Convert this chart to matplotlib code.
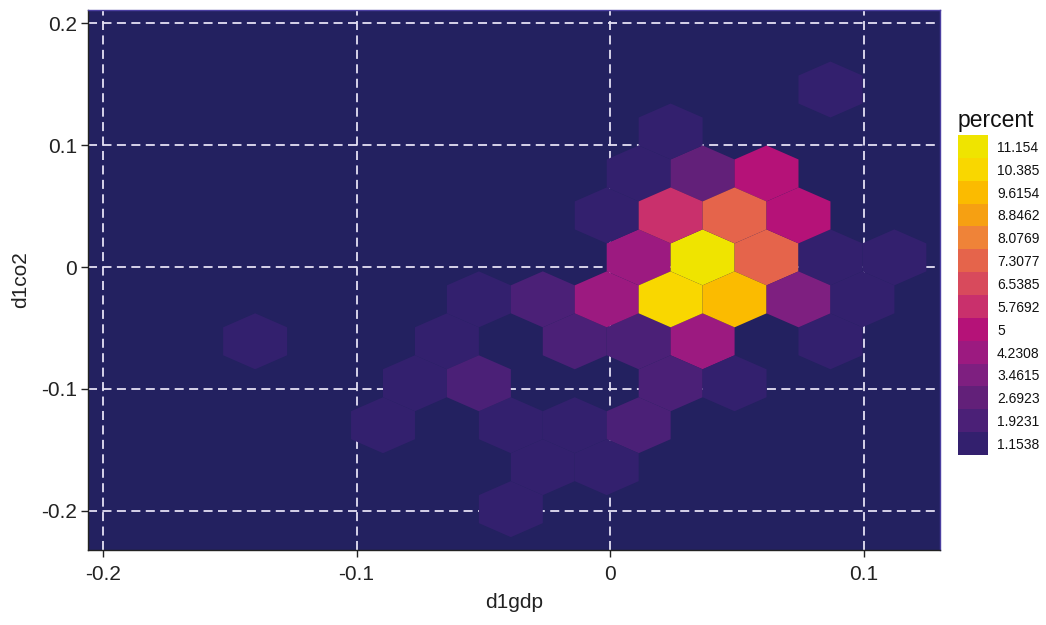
import matplotlib
matplotlib.use("Agg")
import matplotlib.pyplot as plt
import numpy as np
from matplotlib.colors import ListedColormap, BoundaryNorm

plt.rcParams['font.family'] = ['Liberation Sans', 'DejaVu Sans']

# hex cell centres (d1gdp, d1co2) and share of observations in each cell
hex_x = [0.087,
         0.024,
         0.011, 0.036, 0.062,
         -0.001, 0.024, 0.049, 0.074,
         0.011, 0.036, 0.062, 0.087, 0.112,
         -0.052, -0.027, -0.001, 0.024, 0.049, 0.074, 0.099,
         -0.140, -0.064, -0.014, 0.011, 0.036, 0.087,
         -0.077, -0.052, 0.024, 0.049,
         -0.090, -0.039, -0.014, 0.011,
         -0.027, -0.001,
         -0.039]
hex_y = [0.146,
         0.111,
         0.077, 0.077, 0.077,
         0.042, 0.042, 0.042, 0.042,
         0.008, 0.008, 0.008, 0.008, 0.008,
         -0.027, -0.027, -0.027, -0.027, -0.027, -0.027, -0.027,
         -0.061, -0.061, -0.061, -0.061, -0.061, -0.061,
         -0.095, -0.095, -0.095, -0.095,
         -0.130, -0.130, -0.130, -0.130,
         -0.164, -0.164,
         -0.199]
hex_pct = [1.1538,
           1.1538,
           1.1538, 2.6923, 5.0,
           1.1538, 5.7692, 7.3077, 5.0,
           4.2308, 11.154, 7.3077, 1.1538, 1.1538,
           1.1538, 1.9231, 4.2308, 10.385, 9.6154, 3.4615, 1.1538,
           1.1538, 1.1538, 1.9231, 1.9231, 4.2308, 1.1538,
           1.1538, 1.9231, 1.9231, 1.1538,
           1.1538, 1.1538, 1.1538, 1.9231,
           1.1538, 1.1538,
           1.1538]

legend_levels = [1.1538, 1.9231, 2.6923, 3.4615, 4.2308, 5.0, 5.7692,
                 6.5385, 7.3077, 8.0769, 8.8462, 9.6154, 10.385, 11.154]
legend_labels = ['1.1538', '1.9231', '2.6923', '3.4615', '4.2308', '5',
                 '5.7692', '6.5385', '7.3077', '8.0769', '8.8462', '9.6154',
                 '10.385', '11.154']
level_colors = ['#33206e', '#4b2077', '#622079', '#7e1f80', '#9c1a80',
                '#b51278', '#c9306c', '#d84a5c', '#e5644b', '#ef8338',
                '#f6a012', '#fbbb00', '#f9d700', '#efe400']

x_ticks = [-0.2, -0.1, 0, 0.1]
x_labels = ['-0.2', '-0.1', '0', '0.1']
y_ticks = [-0.2, -0.1, 0, 0.1, 0.2]
y_labels = ['-0.2', '-0.1', '0', '0.1', '0.2']

panel_bg = '#232160'
ink = '#222222'

fig = plt.figure(figsize=(10.46, 6.25), dpi=100)
ax = fig.add_axes([0.0841, 0.12, 0.8146, 0.864])
ax.set_facecolor(panel_bg)

step = legend_levels[1] - legend_levels[0]
bounds = [v - step / 2 for v in legend_levels] + [legend_levels[-1] + step / 2]
cmap = ListedColormap(level_colors)
norm = BoundaryNorm(bounds, cmap.N)

# hex lattice: width 0.0252, row spacing 0.0344
sx, sy = 0.0252, 0.0688
xmin, ymin = 0.0364 - 10 * sx, 0.0079 - 4 * sy
nx, ny = 14, 7
hb = ax.hexbin(hex_x, hex_y, C=hex_pct, reduce_C_function=np.max,
               gridsize=(nx, ny),
               extent=(xmin, xmin + nx * sx, ymin, ymin + ny * sy),
               cmap=cmap, norm=norm, linewidths=0, edgecolors='none',
               zorder=2)

ax.set_xlim(-0.2059, 0.1300)
ax.set_ylim(-0.2320, 0.2107)
ax.set_xticks(x_ticks)
ax.set_xticklabels(x_labels)
ax.set_yticks(y_ticks)
ax.set_yticklabels(y_labels)
ax.grid(True, color='#e4e0f4', linestyle=(0, (5, 3)), linewidth=1.3, zorder=1)
ax.set_axisbelow(True)
ax.tick_params(axis='both', labelsize=15, length=5, width=1, color=ink,
               labelcolor=ink)
ax.tick_params(axis='x', pad=6)
ax.tick_params(axis='y', pad=3)

for side in ['left', 'bottom']:
    ax.spines[side].set_color(ink)
    ax.spines[side].set_linewidth(1)
for side in ['top', 'right']:
    ax.spines[side].set_color('#4b3fa0')
    ax.spines[side].set_linewidth(1)

ax.set_xlabel('d1gdp', fontsize=15, color=ink, labelpad=6)
ax.set_ylabel('d1co2', fontsize=15, color=ink, labelpad=8)

# stepped legend
cax = fig.add_axes([0.9158, 0.272, 0.0287, 0.512])
cb = fig.colorbar(hb, cax=cax, boundaries=bounds, ticks=legend_levels)
cb.set_ticklabels(legend_labels)
cb.outline.set_visible(False)
cax.minorticks_off()
cax.tick_params(which='both', length=0, labelsize=10, pad=6.5, colors='#111111')
fig.text(0.9158, 0.788, 'percent', fontsize=16.5, color='#111111',
         ha='left', va='bottom')

fig.savefig('out.png', dpi=100)
